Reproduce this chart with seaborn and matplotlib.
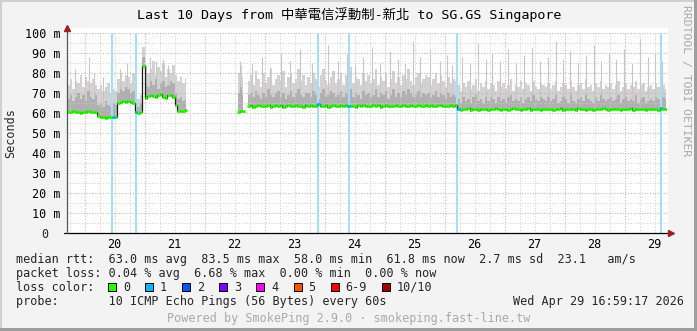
import numpy as np
import pandas as pd
import matplotlib
matplotlib.use("Agg")
import matplotlib.pyplot as plt
import seaborn as sns
from matplotlib.patches import Rectangle

N = np.nan

# ---------------- data ----------------
title = "Last 10 Days from 中華電信浮動制-新北 to SG.GS Singapore"
day_labels = ["20", "21", "22", "23", "24", "25", "26", "27", "28", "29"]
ytick_values = [0, 10, 20, 30, 40, 50, 60, 70, 80, 90, 100]
ytick_labels = ["", "10 m", "20 m", "30 m", "40 m", "50 m", "60 m", "70 m", "80 m", "90 m", "100 m"]

# hourly median rtt (ms), hour 0 = Apr 19 ~17:00
median_rtt = (
    [60.5, 60.3, 60.8, 60.4, 60.6, 60.2, 60.7, 60.5, 60.9, 60.4, 60.6, 60.3,
     58.3, 57.9, 58.1, 57.7, 58.0, 57.8, 58.2, 58.0, 64.8, 65.6, 65.9, 65.4]
    + [65.8, 65.5, 65.2, 60.5, 60.2, 60.6, 83.5, 67.5, 68.3, 69.0, 68.6, 67.9,
       68.8, 69.4, 68.2, 67.6, 68.9, 69.2, 68.0, 64.0, 61.2, 60.8, 61.0, 61.3]
    + [N] * 20 + [60.6, 61.0, 60.8, N]
    + [63.4, 63.8, 63.2, 63.6, 64.1, 63.3, 63.7, 63.5, 63.9, 63.2, 63.6, 64.2,
       63.4, 63.8, 63.1, 63.5, 63.9, 63.3, 63.7, 64.0, 63.4, 63.6, 63.2, 63.8]
    + [63.5, 63.9, 63.3, 63.7, 64.3, 63.4, 63.6, 63.8, 63.2, 63.7, 64.0, 63.5,
       63.3, 63.9, 63.6, 64.1, 63.4, 63.7, 63.5, 63.2, 63.8, 63.6, 64.0, 63.4]
    + [63.7, 63.3, 63.9, 63.5, 63.8, 63.2, 63.6, 64.1, 63.4, 63.7, 63.5, 63.9,
       63.3, 63.6, 63.8, 63.4, 63.7, 64.0, 63.5, 63.3, 63.9, 63.6, 63.4, 63.8]
    + [63.5, 63.9, 63.6, 63.3, 63.8, 64.1, 63.5, 63.7, 63.4, 63.9, 63.6, 63.8,
       61.9, 61.6, 62.1, 61.8, 62.3, 61.7, 62.0, 61.9, 61.6, 62.2, 61.8, 62.0]
    + [61.7, 62.1, 61.9, 62.3, 61.8, 61.6, 62.0, 62.2, 61.7, 61.9, 62.4, 61.8,
       62.0, 61.6, 62.1, 61.9, 62.3, 61.7, 62.0, 61.8, 62.2, 61.6, 61.9, 62.1]
    + [61.8, 62.0, 61.7, 62.2, 61.9, 62.4, 61.6, 62.0, 61.8, 62.1, 61.9, 61.7,
       62.3, 61.8, 62.0, 61.6, 62.2, 61.9, 61.7, 62.1, 61.8, 62.0, 62.3, 61.9]
    + [61.7, 62.0, 61.8, 62.2, 61.9, 61.6, 62.1, 61.8, 62.0, 62.3, 61.7, 61.9,
       62.1, 61.8, 62.0, 61.6, 62.2, 61.9, 61.8, 62.0, 61.7, 62.4, 61.9, 61.8]
)

# hourly upper edge of the darker smoke band (ms)
smoke_mid = (
    [67, 69, 66, 68, 70, 67, 69, 66, 71, 68, 67, 69, 64, 65, 63, 66, 64, 63, 65, 64, 70, 72, 71, 73]
    + [72, 70, 71, 64, 63, 65, 88, 75, 73, 76, 74, 77, 72, 75, 76, 73, 74, 76, 75, 70, 67, 68, 66, 67]
    + [N] * 20 + [70, 73, 69, N]
    + [69, 70, 68, 71, 69, 67, 70, 68, 72, 69, 68, 70, 71, 68, 70, 67, 69, 71, 68, 70, 72, 69, 68, 70]
    + [70, 68, 71, 69, 67, 70, 72, 68, 69, 71, 70, 68, 69, 71, 68, 70, 69, 72, 68, 70, 69, 67, 71, 69]
    + [70, 68, 69, 72, 68, 70, 69, 71, 67, 69, 72, 68, 70, 68, 71, 69, 72, 70, 68, 69, 71, 68, 70, 69]
    + [70, 68, 69, 71, 68, 70, 69, 67, 70, 68, 69, 68, 67, 65, 68, 66, 67, 65, 68, 69, 66, 67, 65, 68]
    + [66, 68, 67, 65, 68, 66, 67, 65, 68, 69, 66, 67, 66, 68, 65, 67, 68, 66, 69, 67, 66, 68, 67, 66]
    + [68, 66, 67, 69, 65, 66, 68, 67, 65, 69, 66, 65, 67, 68, 66, 69, 67, 66, 65, 68, 66, 69, 67, 66]
    + [67, 68, 66, 67, 69, 65, 67, 68, 66, 67, 66, 69, 65, 67, 68, 65, 66, 67, 66, 68, 67, 75, 68, 67]
)

# hourly maximum ping (ms)
smoke_max = (
    [74, 77, 72, 76, 75, 79, 73, 78, 76, 75, 77, 74, 72, 74, 71, 73, 75, 70, 72, 71, 77, 80, 76, 79]
    + [78, 75, 80, 68, 67, 69, 93, 84, 80, 82, 86, 79, 83, 81, 85, 78, 82, 80, 84, 79, 76, 78, 75, 77]
    + [N] * 20 + [80, 84, 78, N]
    + [76, 79, 74, 81, 77, 73, 80, 75, 78, 82, 74, 77, 79, 76, 81, 73, 78, 80, 75, 77, 82, 76, 79, 74]
    + [78, 75, 80, 77, 73, 79, 82, 76, 74, 78, 81, 75, 77, 80, 74, 79, 76, 83, 75, 78, 77, 74, 80, 76]
    + [79, 75, 77, 82, 74, 78, 76, 80, 73, 77, 81, 75, 78, 74, 79, 77, 82, 76, 74, 78, 80, 75, 77, 79]
    + [78, 74, 77, 80, 75, 79, 76, 73, 78, 75, 77, 76, 74, 71, 75, 73, 76, 72, 74, 77, 71, 75, 73, 76]
    + [72, 75, 74, 71, 76, 73, 75, 72, 74, 77, 71, 74, 73, 76, 72, 75, 74, 71, 76, 73, 72, 75, 74, 73]
    + [75, 72, 74, 76, 71, 73, 75, 74, 72, 76, 73, 71, 74, 75, 72, 77, 73, 74, 71, 75, 73, 76, 72, 74]
    + [73, 75, 72, 74, 76, 71, 73, 75, 72, 74, 73, 76, 72, 74, 75, 71, 73, 74, 72, 75, 73, 78, 74, 72]
)

# isolated tall single pings
spike_hours = [3.2, 8.8, 10.8, 14.4, 21.2, 24.0, 33.2, 35.6, 38.4, 40.4, 69.2,
               74.0, 78.0, 81.2, 85.6, 89.2, 93.2, 98.0, 100.4, 104.4, 108.4, 112.0,
               115.2, 118.4, 122.0, 125.2, 129.2, 132.4, 135.2, 138.4, 141.2, 145.2,
               149.2, 152.0, 154.0, 158.0, 161.2, 164.4, 167.6, 170.0, 173.2, 176.4,
               179.6, 182.8, 186.0, 189.2, 192.4, 195.6, 198.4, 201.2, 204.4, 207.6,
               210.8, 213.6, 216.8, 219.6, 222.8, 226.0, 229.2, 232.4, 235.2, 238.0]
spike_tops = [82, 88, 80, 78, 82, 85, 88, 86, 87, 84, 86,
              85, 88, 83, 90, 86, 92, 85, 89, 94, 86, 90,
              84, 88, 93, 85, 91, 87, 85, 96, 88, 92,
              86, 89, 84, 88, 85, 95, 87, 90, 86, 92,
              85, 89, 93, 86, 88, 96, 87, 91, 85, 89,
              94, 86, 90, 87, 92, 85, 97, 88, 90, 86]

# hours with 1/10 packets lost
loss_hours = [18.0, 27.6, 100.4, 112.8, 156.0, 237.6]

loss_labels = ["0", "1", "2", "3", "4", "5", "6-9", "10/10"]
loss_colors = ["#26ff00", "#00b8ff", "#0059ff", "#7e00ff", "#ff00ff", "#ff5500", "#ff0000", "#a10000"]

line_rtt = "median rtt:  63.0 ms avg  83.5 ms max  58.0 ms min  61.8 ms now  2.7 ms sd  23.1   am/s"
line_loss = "packet loss: 0.04 % avg  6.68 % max  0.00 % min  0.00 % now"
line_probe = "probe:       10 ICMP Echo Pings (56 Bytes) every 60s"
date_text = "Wed Apr 29 16:59:17 2026"
footer = "Powered by SmokePing 2.9.0 · smokeping.fast-line.tw"
side_text = "RRDTOOL / TOBI OETIKER"

# ---------------- style ----------------
sns.set_style("white")
plt.rcParams["font.family"] = ["DejaVu Sans Mono", "Noto Sans CJK TC"]

W, H = 697, 331
fx = lambda px: px / W
fy = lambda py: 1 - py / H

fig = plt.figure(figsize=(W / 100, H / 100), dpi=100, facecolor="#f3f3f3")
ax = fig.add_axes([fx(67), fy(233), 600 / W, 200 / H])
ax.set_facecolor("white")
fig.patches.append(Rectangle((fx(67), fy(233)), 601 / W, 205 / H, transform=fig.transFigure,
                             facecolor="white", edgecolor="none", zorder=-5))
# frame
fig.patches.append(Rectangle((0, fy(2)), 1, 2 / H, transform=fig.transFigure, facecolor="#d0d0d0", edgecolor="none", zorder=10))
fig.patches.append(Rectangle((0, 0), 2 / W, 1, transform=fig.transFigure, facecolor="#d0d0d0", edgecolor="none", zorder=10))
fig.patches.append(Rectangle((0, 0), 1, 3 / H, transform=fig.transFigure, facecolor="#9e9e9e", edgecolor="none", zorder=10))
fig.patches.append(Rectangle((1 - 3 / W, 0), 3 / W, 1, transform=fig.transFigure, facecolor="#9e9e9e", edgecolor="none", zorder=10))

hours = np.arange(len(median_rtt))
xc = hours + 0.5
med = np.array(median_rtt, dtype=float)
mid = np.array(smoke_mid, dtype=float)
mx = np.array(smoke_max, dtype=float)
valid = np.isfinite(med)

# smoke
ax.fill_between(xc, med, mx, where=valid, step="mid", color="#d2d2d2", lw=0, zorder=1)
ax.fill_between(xc, med, mid, where=valid, step="mid", color="#b0b0b0", lw=0, zorder=1.5)
spike_base = med[np.floor(spike_hours).astype(int)]
ax.vlines(spike_hours, spike_base, spike_tops, color="#c6c6c6", lw=0.8, zorder=1.2)

# grid
for v in range(5, 101, 5):
    major = v % 10 == 0
    ax.axhline(v, color="#dca0a0" if major else "#cbcbcb", lw=0.7, ls=(0, (1.0, 1.8)), zorder=3)
for hh in range(1, 240, 6):
    major = (hh - 7) % 24 == 0
    ax.axvline(hh, color="#dca0a0" if major else "#cbcbcb", lw=0.7, ls=(0, (1.0, 1.8)), zorder=3)

# loss lines
for h in loss_hours:
    ax.axvline(h, color="#a3e0f8", lw=1.5, zorder=3.5)

# median: thin dark step line, green dashes per hour on top
df = pd.DataFrame({"hour": xc, "median": med, "seg": np.cumsum(~valid)})
df = df[valid]
sns.lineplot(data=df, x="hour", y="median", units="seg", estimator=None, ax=ax,
             color="#1a1a1a", lw=0.9, drawstyle="steps-mid", legend=False, zorder=4)
ax.hlines(med[valid], hours[valid], hours[valid] + 1, color=loss_colors[0], lw=2.1, zorder=5)
for h in loss_hours:
    i = int(h)
    ax.hlines(med[i], i, i + 1, color=loss_colors[1], lw=2.1, zorder=6)

ax.set_xlim(0, 240)
ax.set_ylim(0, 100)
for s in ax.spines.values():
    s.set_visible(False)
ax.set_xlabel("")
ax.set_ylabel("")

ax.set_xticks([19 + 24 * k for k in range(10)], day_labels)
ax.set_xticks([7 + 24 * k for k in range(10)], minor=True)
ax.tick_params(axis="x", which="major", length=0, pad=3.3, labelsize=8.5, labelcolor="black")
ax.tick_params(axis="x", which="minor", length=2.5, width=0.8, color="#d06060", direction="out")
ax.set_yticks(ytick_values, ytick_labels)
ax.tick_params(axis="y", length=0, pad=4.6, labelsize=8.5, labelcolor="black")
fig.text(fx(45), fy(233), "0", ha="center", va="center_baseline", fontsize=8.5)

# axis lines and arrows
ax.plot([-1.2, 240.6], [0, 0], color="black", lw=0.9, clip_on=False, zorder=7)
ax.plot([0, 0], [0, 101.5], color="#555555", lw=0.9, clip_on=False, zorder=7)
ax.plot([241.4], [0], marker=">", ms=4.5, color="#a02020", mec="#a02020", clip_on=False, zorder=8)
ax.plot([0], [102.3], marker="^", ms=4.5, color="#a02020", mec="#a02020", clip_on=False, zorder=8)

# texts
fig.text(fx(349), fy(19), title, ha="center", va="baseline", fontsize=9.6, color="black")
fig.text(fx(10.5), fy(133), "Seconds", rotation=90, ha="center", va="center", fontsize=8.5)
fig.text(fx(686), fy(5), side_text, rotation=270, ha="center", va="top", fontsize=8.2, color="#a8a8a8")

fs = 8.5
fig.text(fx(16), fy(263), line_rtt, ha="left", va="baseline", fontsize=fs)
fig.text(fx(16), fy(277), line_loss, ha="left", va="baseline", fontsize=fs)
fig.text(fx(16), fy(291), "loss color:", ha="left", va="baseline", fontsize=fs)
centers = [112 + 37.1 * k for k in range(7)] + [385.5]
for c, lab, col in zip(centers, loss_labels, loss_colors):
    fig.patches.append(Rectangle((fx(c - 4), fy(291)), 8 / W, 7.7 / H, transform=fig.transFigure,
                                 facecolor=col, edgecolor="black", lw=0.7, zorder=5))
    fig.text(fx(c + 11), fy(291), lab, ha="left", va="baseline", fontsize=fs)
fig.text(fx(16), fy(305), line_probe, ha="left", va="baseline", fontsize=fs)
fig.text(fx(513), fy(305), date_text, ha="left", va="baseline", fontsize=fs)
fig.text(fx(348.5), fy(322), footer, ha="center", va="baseline", fontsize=fs, color="#aaaaaa")

fig.savefig("out.png", dpi=100, facecolor=fig.get_facecolor())
